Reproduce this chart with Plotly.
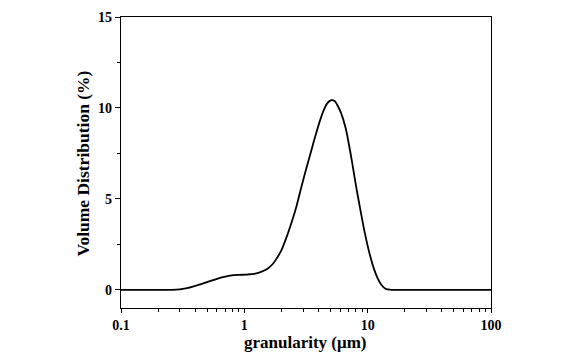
import plotly.graph_objects as go

size_um = [0.1, 0.2, 0.26, 0.30, 0.35, 0.44, 0.52, 0.60, 0.70, 0.77, 0.90, 1.05, 1.20, 1.35,
           1.53, 1.70, 1.85, 2.0, 2.2, 2.4, 2.6, 2.85, 3.1, 3.44, 3.8, 4.15, 4.45, 4.70, 5.07,
           5.4, 5.67, 6.1, 6.62, 7.0, 7.51, 8.1, 8.78, 9.5, 10.26, 11.25, 12.0, 13.0, 14.0, 15.5,
           20.0, 100.0]
volume_pct = [0, 0, 0, 0.03, 0.10, 0.30, 0.46, 0.60, 0.72, 0.78, 0.82, 0.84, 0.88, 0.97,
              1.14, 1.42, 1.78, 2.18, 2.90, 3.65, 4.40, 5.45, 6.40, 7.50, 8.55, 9.40, 9.95, 10.25,
              10.43, 10.38, 10.16, 9.70, 8.91, 8.10, 6.94, 5.60, 4.30, 3.10, 2.10, 1.15, 0.66, 0.25,
              0.05, 0, 0, 0]

x_ticks = [0.1, 1, 10, 100]
x_tick_labels = ["0.1", "1", "10", "100"]
y_ticks = [0, 5, 10, 15]

font_family = "Liberation Serif"

fig = go.Figure()
fig.add_trace(go.Scatter(x=size_um, y=volume_pct, mode="lines",
                         line=dict(color="black", width=1.8, shape="spline", smoothing=1.0),
                         showlegend=False))

fig.update_layout(
    width=572, height=352,
    margin=dict(l=121, r=81, t=10, b=44),
    paper_bgcolor="white", plot_bgcolor="white",
    font=dict(family=font_family, color="black"),
    xaxis=dict(type="log", range=[-1, 2], tickvals=x_ticks, ticktext=x_tick_labels,
               ticks="outside", ticklen=4, tickwidth=1.3, tickcolor="black",
               showline=True, linecolor="black", linewidth=1.3, mirror=True,
               showgrid=False, zeroline=False,
               tickfont=dict(family=font_family, size=14, color="black", weight="bold"),
               minor=dict(ticks="outside", ticklen=3, tickwidth=1, tickcolor="black",
                          dtick="D1", showgrid=False)),
    yaxis=dict(range=[-1, 15], tickvals=y_ticks,
               ticks="outside", ticklen=5, tickwidth=1.3, tickcolor="black",
               showline=True, linecolor="black", linewidth=1.3, mirror=True,
               showgrid=False, zeroline=False,
               tickfont=dict(family=font_family, size=14, color="black", weight="bold"),
               minor=dict(ticks="outside", ticklen=3, tickwidth=1, tickcolor="black",
                          dtick=2.5, showgrid=False)),
    annotations=[
        dict(text="<b>granularity (μm)</b>", xref="paper", yref="paper",
             x=(305 - 121) / 370, y=(307.7 - 343) / 297.7, xanchor="center", yanchor="middle",
             showarrow=False, font=dict(family=font_family, size=17, color="black")),
        dict(text="<b>Volume Distribution (%)</b>", xref="paper", yref="paper",
             x=(83 - 121) / 370, y=(307.7 - 160) / 297.7, xanchor="center", yanchor="middle",
             textangle=-90, showarrow=False, font=dict(family=font_family, size=17.5, color="black")),
    ],
)

fig.write_html("out.html")
